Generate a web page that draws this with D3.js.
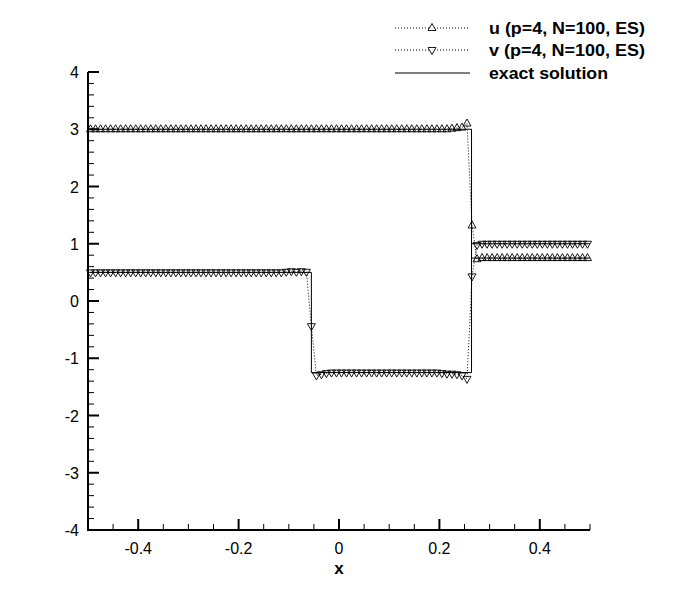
<!DOCTYPE html>
<html><head><meta charset="utf-8">
<script src="https://cdn.jsdelivr.net/npm/d3@7/dist/d3.min.js"></script>
<style>body{margin:0;background:#fff}svg{display:block}</style>
</head><body>
<svg id="c" width="673" height="598"></svg>
<script>
// ---- data ----
const seriesNames = ["u (p=4, N=100, ES)", "v (p=4, N=100, ES)", "exact solution"];
const xTicks = [-0.4, -0.2, 0, 0.2, 0.4];
const xTickLabels = ["-0.4", "-0.2", "0", "0.2", "0.4"];
const yTicks = [-4, -3, -2, -1, 0, 1, 2, 3, 4];
const yTickLabels = ["-4", "-3", "-2", "-1", "0", "1", "2", "3", "4"];
// cell centres, N = 100 on [-0.5, 0.5]
const cellX = d3.range(100).map(i => -0.495 + 0.01 * i);
const uValues = [
 3,3,3,3,3,3,3,3,3,3,
 3,3,3,3,3,3,3,3,3,3,
 3,3,3,3,3,3,3,3,3,3,
 3,3,3,3,3,3,3,3,3,3,
 3,3,3,3,3,3,3,3,3,3,
 3,3,3,3,3,3,3,3,3,3,
 3,3,3,3,3,3,3,3,3,3,
 3,3,3.01,3.02,3.03,3.1,1.32,0.73,0.75,0.75,
 0.75,0.75,0.75,0.75,0.75,0.75,0.75,0.75,0.75,0.75,
 0.75,0.75,0.75,0.75,0.75,0.75,0.75,0.75,0.75,0.75
];
const vValues = [
 0.5,0.5,0.5,0.5,0.5,0.5,0.5,0.5,0.5,0.5,
 0.5,0.5,0.5,0.5,0.5,0.5,0.5,0.5,0.5,0.5,
 0.5,0.5,0.5,0.5,0.5,0.5,0.5,0.5,0.5,0.5,
 0.5,0.5,0.5,0.5,0.5,0.5,0.5,0.5,0.5,0.51,
 0.52,0.51,0.52,0.51,-0.44,-1.3,-1.28,-1.26,-1.25,-1.25,
 -1.25,-1.25,-1.25,-1.25,-1.25,-1.25,-1.25,-1.25,-1.25,-1.25,
 -1.25,-1.25,-1.25,-1.25,-1.25,-1.25,-1.25,-1.25,-1.25,-1.25,
 -1.26,-1.27,-1.27,-1.28,-1.3,-1.36,0.43,0.98,1,1,
 1,1,1,1,1,1,1,1,1,1,
 1,1,1,1,1,1,1,1,1,1
];
const exactX = [-0.5, -0.055, 0.264, 0.5];
const exactU = [3, 3, 0.75];
const exactV = [0.5, -1.25, 1];

// ---- chart ----
const svg = d3.select("#c");
const x = d3.scaleLinear().domain([-0.5, 0.5]).range([88, 590]);
const y = d3.scaleLinear().domain([-4, 4]).range([530, 72]);
const font = "'Liberation Sans', Arial, Helvetica, sans-serif";

// axes
const g = svg.append("g");
g.append("line").attr("x1", x(-0.5)).attr("x2", x(0.5)).attr("y1", y(-4)).attr("y2", y(-4))
  .attr("stroke", "#000").attr("stroke-width", 2);
g.append("line").attr("x1", x(-0.5)).attr("x2", x(-0.5)).attr("y1", y(-4)+1).attr("y2", y(4))
  .attr("stroke", "#000").attr("stroke-width", 2);

const xMinor = d3.range(-0.5, 0.5001, 0.05).filter(v => !xTicks.some(t => Math.abs(t - v) < 1e-6));
g.selectAll(".xmin").data(xMinor).enter().append("line")
  .attr("x1", d => x(d)).attr("x2", d => x(d)).attr("y1", y(-4)).attr("y2", y(-4) - 6)
  .attr("stroke", "#000").attr("stroke-width", 1);
g.selectAll(".xmaj").data(xTicks).enter().append("line")
  .attr("x1", d => x(d)).attr("x2", d => x(d)).attr("y1", y(-4)).attr("y2", y(-4) - 11)
  .attr("stroke", "#000").attr("stroke-width", 2);
g.selectAll(".xlab").data(xTicks).enter().append("text")
  .attr("x", d => x(d)).attr("y", 554).attr("text-anchor", "middle")
  .attr("font-family", font).attr("font-size", 16).text((d, i) => xTickLabels[i]);

const yMinor = d3.range(-4, 4.0001, 0.2).filter(v => !yTicks.some(t => Math.abs(t - v) < 1e-6));
g.selectAll(".ymin").data(yMinor).enter().append("line")
  .attr("x1", x(-0.5)).attr("x2", x(-0.5) + 6).attr("y1", d => y(d)).attr("y2", d => y(d))
  .attr("stroke", "#000").attr("stroke-width", 1);
g.selectAll(".ymaj").data(yTicks).enter().append("line")
  .attr("x1", x(-0.5)).attr("x2", x(-0.5) + 11).attr("y1", d => y(d)).attr("y2", d => y(d))
  .attr("stroke", "#000").attr("stroke-width", 2);
g.selectAll(".ylab").data(yTicks).enter().append("text")
  .attr("x", 79).attr("y", d => y(d) + 6).attr("text-anchor", "end")
  .attr("font-family", font).attr("font-size", 16).text((d, i) => yTickLabels[i]);

svg.append("text").attr("x", 339).attr("y", 574).attr("text-anchor", "middle")
  .attr("font-family", font).attr("font-size", 17).attr("font-weight", "bold").text("x");

// exact solution
function stepPath(vals) {
  const pts = [];
  vals.forEach((v, i) => { pts.push([exactX[i], v]); pts.push([exactX[i + 1], v]); });
  return d3.line().x(d => x(d[0])).y(d => y(d[1]))(pts);
}
svg.append("path").attr("d", stepPath(exactU)).attr("fill", "none").attr("stroke", "#000").attr("stroke-width", 1);
svg.append("path").attr("d", stepPath(exactV)).attr("fill", "none").attr("stroke", "#000").attr("stroke-width", 1);

// numerical series
const line = d3.line().x(d => x(d[0])).y(d => y(d[1]));
const uPts = cellX.map((xx, i) => [xx, uValues[i]]);
const vPts = cellX.map((xx, i) => [xx, vValues[i]]);
const triUp = "M0,-4.5L4,2.5L-4,2.5Z";
const triDown = "M0,4.5L4,-2.5L-4,-2.5Z";

function drawSeries(pts, sym) {
  svg.append("path").attr("d", line(pts)).attr("fill", "none").attr("stroke", "#000")
    .attr("stroke-width", 1).attr("stroke-dasharray", "1,2");
  svg.append("g").selectAll("path").data(pts).enter().append("path")
    .attr("d", sym).attr("transform", d => `translate(${x(d[0])},${y(d[1])})`)
    .attr("fill", "none").attr("stroke", "#000").attr("stroke-width", 0.9);
}
drawSeries(uPts, triUp);
drawSeries(vPts, triDown);

// legend
const legend = svg.append("g");
const rows = [{y: 28, sym: triUp, dash: "1,2", w: 156}, {y: 50, sym: triDown, dash: "1,2", w: 156}, {y: 73, sym: null, dash: null, w: 119}];
rows.forEach((r, i) => {
  const ln = legend.append("line").attr("x1", 395).attr("x2", 470).attr("y1", r.y).attr("y2", r.y)
    .attr("stroke", "#000").attr("stroke-width", 1);
  if (r.dash) ln.attr("stroke-dasharray", r.dash);
  if (r.sym) legend.append("path").attr("d", r.sym).attr("transform", `translate(432,${r.y})`)
    .attr("fill", "#fff").attr("stroke", "#000").attr("stroke-width", 0.9);
  legend.append("text").attr("x", 489).attr("y", r.y + 6).attr("font-family", font)
    .attr("font-size", 16.5).attr("font-weight", "bold")
    .attr("textLength", r.w).attr("lengthAdjust", "spacingAndGlyphs").text(seriesNames[i]);
});
</script>
</body></html>
